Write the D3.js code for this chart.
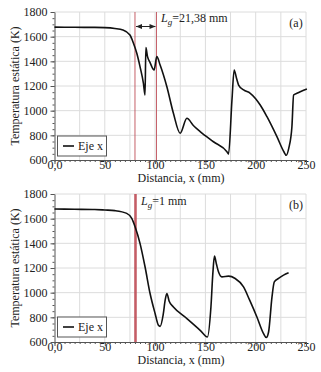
<!DOCTYPE html>
<html><head><meta charset="utf-8">
<script src="https://cdn.jsdelivr.net/npm/d3@7"></script>
<style>body{margin:0;background:#fff}svg{display:block}svg text{font-family:"Liberation Serif","DejaVu Serif",serif !important;fill:#222}</style>
</head><body><svg id="c" width="321" height="372" font-family="Liberation Serif, serif"></svg>
<script>
const xTicks = [0, 50, 100, 150, 200, 250];
const xTickLabels = ["0,0", "50", "100", "150", "200", "250"];
const yTicks = [600, 800, 1000, 1200, 1400, 1600, 1800];

const seriesA_x = [0, 20, 40, 50, 60, 68, 75, 78.5, 81.8, 85, 88.4, 90, 90.8, 92.4, 95, 99, 101.7, 105, 111.7, 118.2, 124.9, 131.6, 138, 144.8, 158, 171.4, 173, 176.4, 178.6, 181, 183, 188, 194.6, 204.5, 211.2, 221.1, 228, 230.4, 233, 236, 237.7, 241, 244.3, 250.9];
const seriesA_y = [1677, 1676, 1675, 1673, 1666, 1654, 1613, 1546, 1465, 1357, 1222, 1127, 1511, 1440, 1390, 1330, 1438, 1370, 1194, 979, 817, 938, 880, 830, 748, 667, 648, 1086, 1330, 1260, 1208, 1168, 1141, 1046, 951, 789, 667, 638, 700, 870, 1127, 1141, 1154, 1176];

const seriesB_x = [0, 20, 40, 50, 60, 71.8, 76.8, 80.1, 85, 90, 95, 100, 103.3, 105, 108, 110, 111.7, 114, 118.2, 131.6, 144.8, 152, 155.5, 157.4, 159, 161, 163, 166.4, 173, 179.6, 187.9, 194, 201.2, 207.8, 210.5, 212.8, 216.2, 218.5, 222.7, 227.7, 232.7];
const seriesB_y = [1678, 1676, 1674, 1670, 1665, 1643, 1602, 1534, 1400, 1210, 993, 831, 736, 727, 820, 939, 993, 930, 884, 790, 695, 641, 884, 1156, 1296, 1230, 1169, 1128, 1134, 1115, 1047, 939, 803, 668, 636, 681, 966, 1087, 1115, 1142, 1161];

const panels = [
  {top: 12, bottom: 160, xs: seriesA_x, ys: seriesA_y, tag: "(a)", lines: [80, 101.38], lineW: 1, lgText: "=21,38 mm", lgX: 161, lgY: 22, arrow: true, legTop: 136},
  {top: 194, bottom: 342, xs: seriesB_x, ys: seriesB_y, tag: "(b)", lines: [80, 81], lineW: 1.6, lgText: "=1 mm", lgX: 141, lgY: 205, arrow: false, legTop: 317}
];

const FONT = "Liberation Serif, DejaVu Serif, serif";
const svg = d3.select("#c");
const defs = svg.append("defs");
["s","e"].forEach(k => {
  defs.append("marker").attr("id","arr"+k).attr("viewBox","0 0 10 10").attr("refX", 10).attr("refY",5)
    .attr("markerWidth",6).attr("markerHeight",6).attr("orient", k==="e"?"auto":"auto-start-reverse")
    .append("path").attr("d","M0,1 L10,5 L0,9 Z").attr("fill","#222");
});

const left = 54.5, right = 306;
panels.forEach(p => {
  const x = d3.scaleLinear().domain([0, 250]).range([left, right]);
  const y = d3.scaleLinear().domain([600, 1800]).range([p.bottom, p.top]);
  const g = svg.append("g");
  g.selectAll(".vg").data(d3.range(25, 251, 25)).join("line")
    .attr("x1", d => x(d)).attr("x2", d => x(d)).attr("y1", p.top).attr("y2", p.bottom)
    .attr("stroke", "#dcdcdc").attr("stroke-width", 1);
  g.selectAll(".hg").data(yTicks.slice(1)).join("line")
    .attr("x1", left).attr("x2", right).attr("y1", d => y(d)).attr("y2", d => y(d))
    .attr("stroke", "#dcdcdc").attr("stroke-width", 1);
  p.lines.forEach(v => {
    g.append("line").attr("x1", x(v)).attr("x2", x(v)).attr("y1", p.top).attr("y2", p.bottom)
      .attr("stroke", "#c0505a").attr("stroke-width", p.lineW).attr("opacity", 0.9);
  });
  const xa = g.append("g").attr("transform", `translate(0,${p.bottom})`)
    .call(d3.axisBottom(x).tickValues(xTicks).tickFormat((d,i) => xTickLabels[i]).tickSize(4).tickSizeOuter(0));
  g.append("g").attr("transform", `translate(0,${p.bottom})`)
    .call(d3.axisBottom(x).tickValues(d3.range(0, 251, 5)).tickFormat("").tickSize(2).tickSizeOuter(0))
    .call(s => s.select(".domain").remove());
  const ya = g.append("g").attr("transform", `translate(${left},0)`)
    .call(d3.axisLeft(y).tickValues(yTicks).tickFormat(d3.format("d")).tickSize(4).tickSizeOuter(0));
  g.append("g").attr("transform", `translate(${left},0)`)
    .call(d3.axisLeft(y).tickValues(d3.range(600, 1801, 50)).tickFormat("").tickSize(2).tickSizeOuter(0))
    .call(s => s.select(".domain").remove());
  g.selectAll("g").attr("font-family", FONT);
  g.selectAll(".domain, .tick line").attr("stroke", "#555");
  xa.selectAll("text").attr("font-size", 12).attr("font-family", FONT).attr("y", 6).attr("dy", "0.25em").attr("fill", "#222");
  ya.selectAll("text").attr("font-size", 12).attr("font-family", FONT).attr("fill", "#222");
  const pts = p.xs.map((v, i) => [v, p.ys[i]]);
  g.append("path").datum(pts)
    .attr("d", d3.line().x(d => x(d[0])).y(d => y(d[1])).curve(d3.curveMonotoneX))
    .attr("fill", "none").attr("stroke", "#111").attr("stroke-width", 1.6);
  g.append("text").attr("transform", `translate(19,${(p.top + p.bottom) / 2}) rotate(-90)`)
    .attr("text-anchor", "middle").attr("font-size", 12).attr("font-family", FONT).text("Temperatura estática (K)");
  g.append("text").attr("x", 181).attr("y", p.bottom + 22).attr("text-anchor", "middle")
    .attr("font-size", 12).attr("font-family", FONT).text("Distancia, x (mm)");
  g.append("text").attr("x", 296).attr("y", p.top + 15).attr("text-anchor", "middle")
    .attr("font-size", 12).attr("font-family", FONT).text(p.tag);
  const t = g.append("text").attr("x", p.lgX).attr("y", p.lgY).attr("font-size", 12).attr("font-family", FONT);
  t.append("tspan").attr("font-style", "italic").text("L");
  t.append("tspan").attr("font-style", "italic").attr("font-size", 9).attr("dy", 3).text("g");
  t.append("tspan").attr("dy", -3).text(p.lgText);
  if (p.arrow) {
    g.append("line").attr("x1", x(p.lines[0]) + 1).attr("x2", x(p.lines[1]) - 1)
      .attr("y1", p.top + 14.5).attr("y2", p.top + 14.5).attr("stroke", "#222").attr("stroke-width", 1)
      .attr("marker-start", "url(#arrs)").attr("marker-end", "url(#arre)");
  }
  const lg = g.append("g");
  lg.append("rect").attr("x", 57.5).attr("y", p.legTop).attr("width", 49).attr("height", 20)
    .attr("fill", "#fff").attr("stroke", "#555").attr("stroke-width", 1);
  lg.append("line").attr("x1", 63).attr("x2", 74).attr("y1", p.legTop + 10).attr("y2", p.legTop + 10)
    .attr("stroke", "#111").attr("stroke-width", 1.6);
  lg.append("text").attr("x", 78).attr("y", p.legTop + 14).attr("font-size", 12).attr("font-family", FONT).text("Eje x");
});
</script></body></html>
